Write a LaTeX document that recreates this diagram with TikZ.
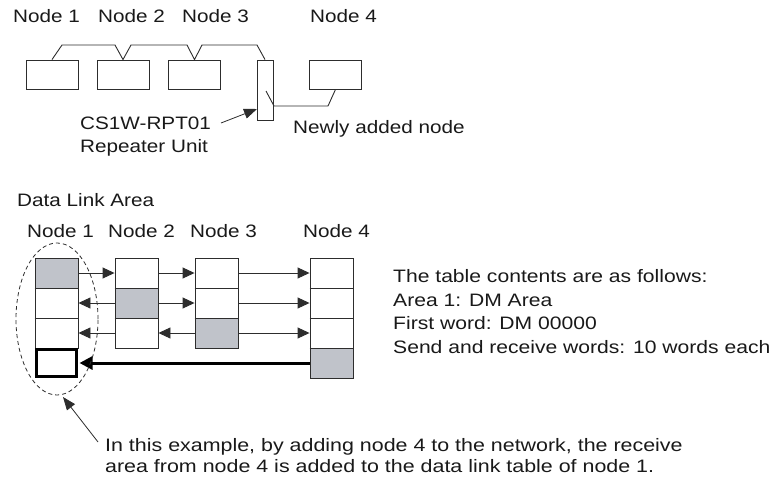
\documentclass[tikz,border=0pt]{standalone}
\usepackage{fontspec}
\setmainfont[FakeStretch=1.15]{Liberation Sans}
\newfontfamily\rightfont[FakeStretch=1.172]{Liberation Sans}
\newfontfamily\bottomfont[FakeStretch=1.19]{Liberation Sans}
\usetikzlibrary{arrows.meta,shapes.geometric}
\definecolor{textc}{RGB}{25,25,25}
\definecolor{linec}{RGB}{45,45,45}
\definecolor{cellgray}{RGB}{192,195,202}
\tikzset{
  txt/.style={anchor=base west, inner sep=0pt, font=\fontsize{18}{22}\selectfont, text=textc},
  rtxt/.style={txt, font=\rightfont\fontsize{18}{22}\selectfont},
  btxt/.style={txt, font=\bottomfont\fontsize{18}{22}\selectfont},
  unitbox/.style={draw=linec, line width=0.9pt, minimum width=52pt, minimum height=29pt, inner sep=0pt},
  cell/.style={draw=linec, line width=0.9pt, minimum width=43pt, minimum height=30pt, inner sep=0pt},
  graycell/.style={cell, fill=cellgray},
  boldcell/.style={draw=black, line width=3pt, minimum width=40pt, minimum height=27pt, inner sep=0pt},
  sep/.style={draw=linec, line width=1.8pt},
  wire/.style={draw=linec, line width=0.9pt},
  flow/.style={draw=linec, line width=0.9pt, -{Triangle[length=12pt,width=11pt]}},
  bigflow/.style={draw=black, line width=3pt, -{Triangle[length=13pt,width=13pt]}},
  pointer/.style={draw=linec, line width=0.8pt, -{Triangle[length=13pt,width=10pt]}}
}
\begin{document}
\begin{tikzpicture}[x=1pt,y=-1pt]
\useasboundingbox (0,0) rectangle (777,479);

% ---------- top network diagram ----------
\node[txt] (l1) at (13,23) {Node 1};
\node[txt] (l2) at (98,23) {Node 2};
\node[txt] (l3) at (182,23) {Node 3};
\node[txt] (l4) at (310,23) {Node 4};

\node[unitbox] (n1) at (52,74.5) {};
\node[unitbox] (n2) at (123,74.5) {};
\node[unitbox] (n3) at (194.5,74.5) {};
\node[unitbox] (n4) at (335.5,74.5) {};
\node[draw=linec, line width=0.9pt, minimum width=16pt, minimum height=60pt, inner sep=0pt] (rep) at (265,90) {};

\draw[wire] (n1.north) -- (62,45) -- (115,45) -- (n2.north) -- (131,45) -- (187,45)
  -- (n3.north) -- (202,45) -- (257,45) -- (rep.north);
\coordinate (rin) at (266,91);
\coordinate (rout) at (274,106);
\draw[wire] (rin) -- (rout) -- (328,106) -- (n4.south);

\node[txt] (cs) at (80,129.5) {CS1W-RPT01};
\node[txt] (ru) at (80,152) {Repeater Unit};
\node[txt] (na) at (293,133) {Newly added node};
\coordinate (csend) at (221,123);
\coordinate (reptip) at (257,109);
\draw[pointer] (csend) -- (reptip);

% ---------- data link area ----------
\node[txt] (dla) at (17,206) {Data Link Area};
\node[txt] (d1) at (27,237) {Node 1};
\node[txt] (d2) at (108,237) {Node 2};
\node[txt] (d3) at (190,237) {Node 3};
\node[txt] (d4) at (303,237) {Node 4};

% Node 1 column
\node[graycell] (a1) at (56.5,273) {};
\node[cell] (a2) at (56.5,303) {};
\node[cell] (a3) at (56.5,333) {};
\node[boldcell] (a4) at (56.5,363) {};
% Node 2 column
\node[cell] (b1) at (136.5,273) {};
\node[graycell] (b2) at (136.5,303) {};
\node[cell] (b3) at (136.5,333) {};
% Node 3 column
\node[cell] (c1) at (216.5,273) {};
\node[cell] (c2) at (216.5,303) {};
\node[graycell] (c3) at (216.5,333) {};
% Node 4 column
\node[cell] (e1) at (331.5,273) {};
\node[cell] (e2) at (331.5,303) {};
\node[cell] (e3) at (331.5,333) {};
\node[graycell] (e4) at (331.5,363) {};

% row separators
\draw[sep] (a1.south west) -- (a1.south east);
\draw[sep] (a2.south west) -- (a2.south east);
\draw[sep] (b1.south west) -- (b1.south east);
\draw[sep] (b2.south west) -- (b2.south east);
\draw[sep] (c1.south west) -- (c1.south east);
\draw[sep] (c2.south west) -- (c2.south east);
\draw[sep] (e1.south west) -- (e1.south east);
\draw[sep] (e2.south west) -- (e2.south east);
\draw[sep] (e3.south west) -- (e3.south east);

% arrows
\draw[flow] (a1.east) -- (b1.west);
\draw[flow] (b1.east) -- (c1.west);
\draw[flow] (c1.east) -- (e1.west);
\draw[flow] (b2.west) -- (a2.east);
\draw[flow] (b2.east) -- (c2.west);
\draw[flow] (c2.east) -- (e2.west);
\draw[flow] (b3.west) -- (a3.east);
\draw[flow] (c3.west) -- (b3.east);
\draw[flow] (c3.east) -- (e3.west);
\draw[bigflow] (e4.west) -- ([xshift=1.5pt]a4.east);

% dashed ellipse
\node[draw=linec, line width=0.8pt, dash pattern=on 4pt off 3pt, ellipse, minimum width=82pt, minimum height=152pt, inner sep=0pt] (ell) at (57,319) {};
\coordinate (ptail) at (98,442);
\coordinate (ptip) at (63,397);
\draw[pointer] (ptail) -- (ptip);

% right text
\node[rtxt] (r1) at (393,282) {The table contents are as follows:};
\node[rtxt] (r2) at (393,306) {Area 1: DM Area};
\node[rtxt] (r3) at (393,329.5) {First word: DM 00000};
\node[rtxt] (r4) at (393,353) {Send and receive words: 10 words each};

% bottom text
\node[btxt] (b1t) at (105,451) {In this example, by adding node 4 to the network, the receive};
\node[btxt] (b2t) at (105,472) {area from node 4 is added to the data link table of node 1.};
\end{tikzpicture}
\end{document}
